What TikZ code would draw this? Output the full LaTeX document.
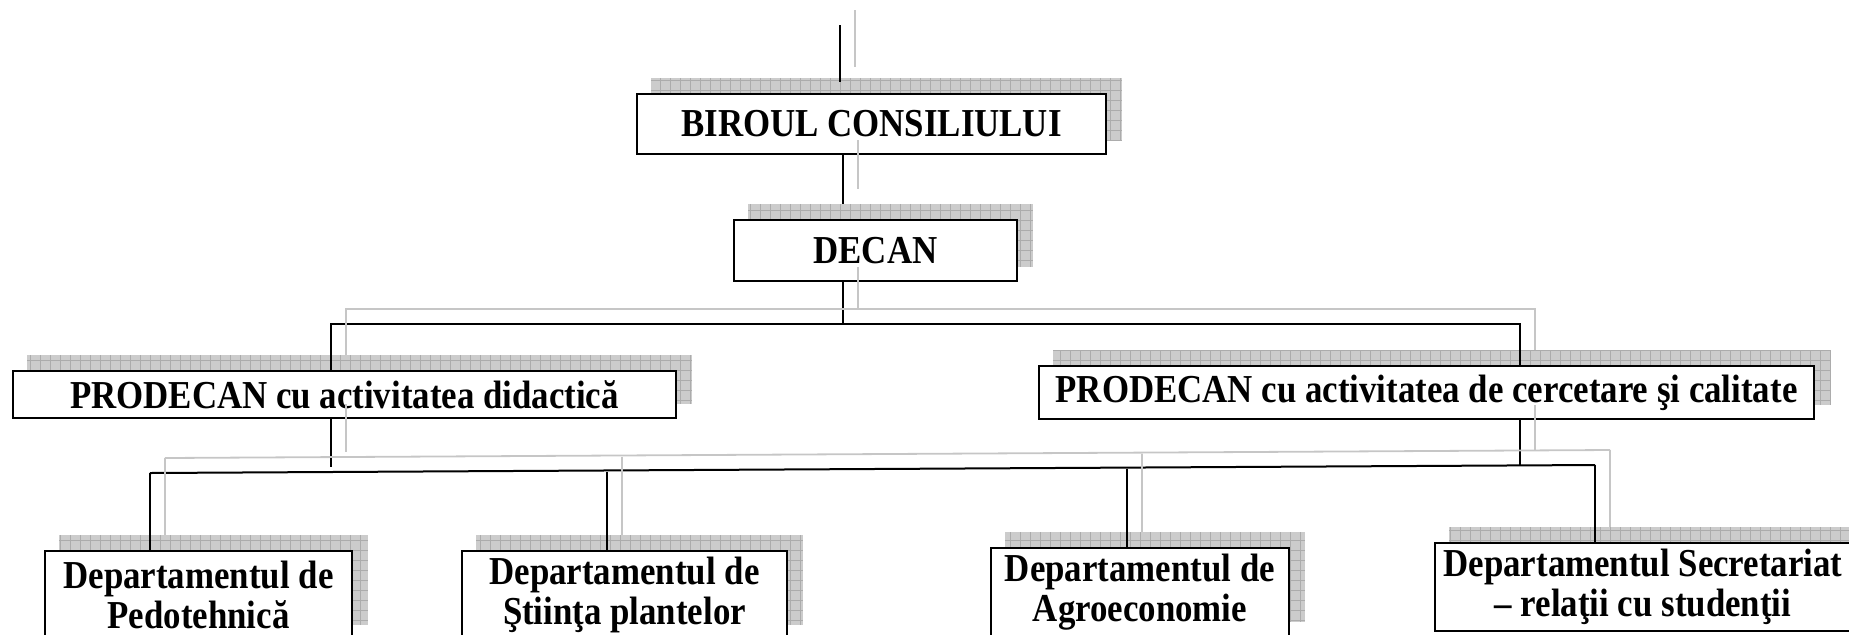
\documentclass[tikz,border=0pt]{standalone}
\usepackage{fontspec}
\setmainfont{Liberation Serif}[FakeStretch=0.88]
\usetikzlibrary{backgrounds}

\tikzset{
  orgbox/.style={draw, line width=1pt, fill=white, anchor=north west, inner sep=2pt, align=center,
    font=\fontsize{19.8}{20}\selectfont\bfseries},
  conn/.style={line width=1pt},
  connshade/.style={line width=0.9pt, gray!45, transform canvas={shift={(15,15)}}},
  shadefill/.style={fill=gray!40},
  shadegrid/.style={gray!65, line width=0.3pt},
}

% grey grid shadow up and right of a box
\newcommand\boxshade[1]{%
  \begin{scope}[on background layer]
    \fill[shadefill] ([shift={(15,-15)}]#1.south west) rectangle ([shift={(15,-15)}]#1.north east);
    \draw[shadegrid, step=5pt] ([shift={(15,-15)}]#1.south west) grid ([shift={(15,-15)}]#1.north east);
  \end{scope}}

% black connector with its grey shadow
\newcommand\linkpath[1]{\draw[conn] #1; \draw[connshade] #1;}

\begin{document}
\begin{tikzpicture}[x=0.5pt,y=0.5pt,yscale=-1,xscale=1]
\useasboundingbox (0,0) rectangle (1849,634);

% Text Node
\node[orgbox, minimum width=234.5pt, minimum height=30pt] (birou) at (636,93) {BIROUL CONSILIULUI};
% Text Node
\node[orgbox, minimum width=141.5pt, minimum height=30.5pt] (decan) at (733,219) {DECAN};
% Text Node
\node[orgbox, minimum width=331.5pt, minimum height=23.5pt] (prodDid) at (12,370) {PRODECAN cu activitatea didactică};
% Text Node
\node[orgbox, minimum width=387.5pt, minimum height=26.5pt] (prodCer) at (1038,365) {PRODECAN cu activitatea de cercetare şi calitate};
% Text Node
\node[orgbox, minimum width=153.5pt, minimum height=44pt] (depPedo) at (44,550) {Departamentul de\\Pedotehnică};
% Text Node
\node[orgbox, minimum width=162.5pt, minimum height=44pt] (depPlante) at (461,550) {Departamentul de\\Ştiinţa plantelor};
% Text Node
\node[orgbox, minimum width=149pt, minimum height=44pt] (depAgro) at (990,547) {Departamentul de\\Agroeconomie};
% Text Node
\node[orgbox, minimum width=208pt, minimum height=44pt] (depSecr) at (1434,542) {Departamentul Secretariat\\– relaţii cu studenţii};

%Shape: Shadows
\foreach \b in {birou,decan,prodDid,prodCer,depPedo,depPlante,depAgro,depSecr} {\boxshade{\b}}

%Straight Lines
\coordinate (feedTop) at (840,25);
\coordinate (feedEnd) at (840,82);
\coordinate (spine) at (843,0);
\coordinate (decanTop) at ([shift={(0,-15)}]decan.north);
\coordinate (busTop) at (843,324);
\coordinate (legDid) at (331,0);
\coordinate (legCer) at (1520,0);
\coordinate (busLow1) at (150,473);
\coordinate (busLow2) at (607,471.5);
\coordinate (busLow3) at (1127,468.5);
\coordinate (busLow4) at (1595,465);

\linkpath{(feedTop) -- (feedEnd)}
\linkpath{(birou.south -| spine) -- (spine |- decanTop)}
\linkpath{(decan.south -| spine) -- (busTop)}
\linkpath{(prodDid.north -| legDid) |- (busTop) -| (prodCer.north -| legCer)}
\linkpath{(prodDid.south -| legDid) -- ++(0,48)}
\linkpath{(prodCer.south -| legCer) -- (legCer |- busLow4)}
\linkpath{(busLow1) -- (busLow4)}
\foreach \p/\d in {1/depPedo,2/depPlante,3/depAgro,4/depSecr} {\linkpath{(busLow\p) -- (busLow\p |- \d.north)}}

\end{tikzpicture}
\end{document}
